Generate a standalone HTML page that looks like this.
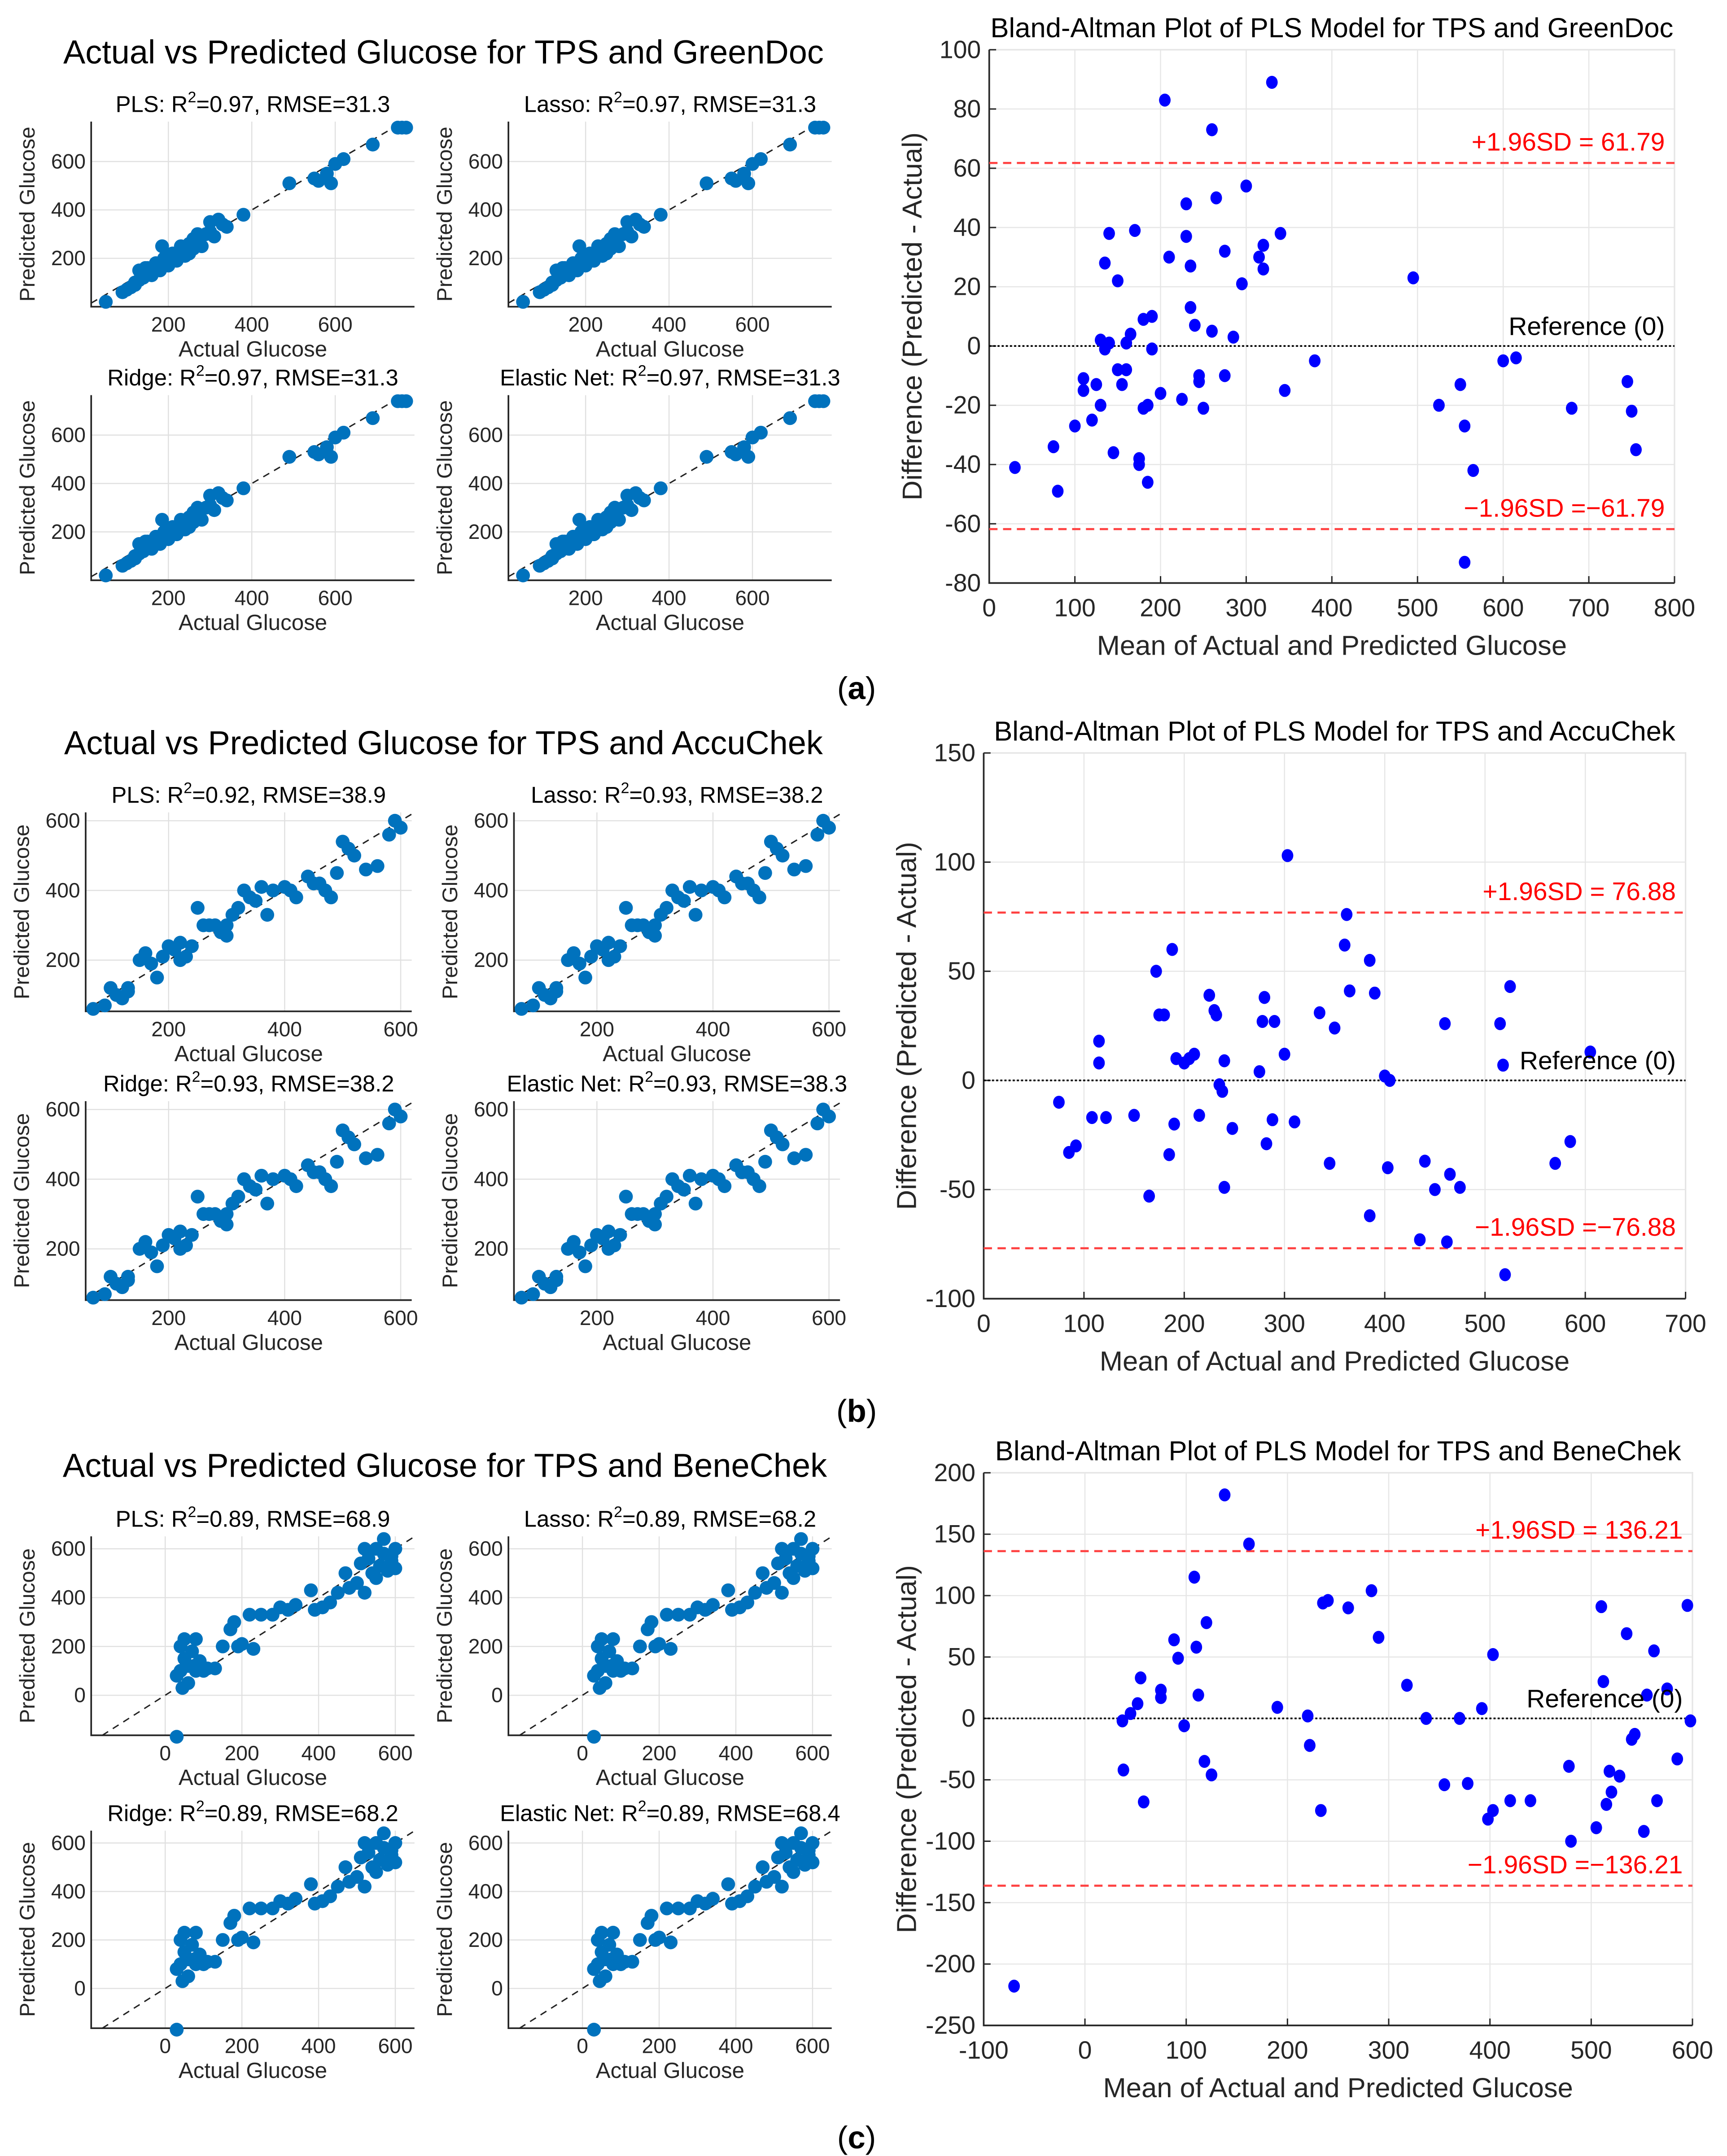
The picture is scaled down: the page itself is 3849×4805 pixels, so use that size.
<!DOCTYPE html>
<html><head><meta charset="utf-8"><style>
html,body{margin:0;padding:0;background:#fff}
svg{display:block}
text{font-family:"Liberation Sans",Arial,sans-serif}
</style></head><body>
<svg id="fig" xmlns="http://www.w3.org/2000/svg" width="3849" height="4805" viewBox="0 0 1250 1560.5" preserveAspectRatio="none">
<rect width="1250" height="1560.5" fill="#fff"/>
<text x="321" y="46" font-size="24" text-anchor="middle" fill="#000">Actual vs Predicted Glucose for TPS and GreenDoc</text>
<text x="321" y="546" font-size="24" text-anchor="middle" fill="#000">Actual vs Predicted Glucose for TPS and AccuChek</text>
<text x="322" y="1069" font-size="24" text-anchor="middle" fill="#000">Actual vs Predicted Glucose for TPS and BeneChek</text>
<text x="620" y="506" font-size="23" text-anchor="middle" font-family="Liberation Serif" fill="#000">(<tspan font-weight="bold">a</tspan>)</text>
<text x="620" y="1029" font-size="23" text-anchor="middle" font-family="Liberation Serif" fill="#000">(<tspan font-weight="bold">b</tspan>)</text>
<text x="620" y="1555" font-size="23" text-anchor="middle" font-family="Liberation Serif" fill="#000">(<tspan font-weight="bold">c</tspan>)</text>
</svg>
<script>
// ---- data (a) GreenDoc
const actualA=[50,90,100,110,120,130,140,150,160,170,180,190,200,210,220,230,240,250,260,270,280,290,300,310,320,330,340,380,490,550,560,580,590,600,620,690,750,760,770,130,150,175,200,230,260,300,250,120,145,185];
const predA=[20,60,70,80,100,150,120,160,130,180,150,200,170,220,190,250,210,260,240,300,250,300,350,290,360,340,330,380,510,530,520,550,510,590,610,670,740,740,740,110,140,170,210,230,280,310,220,90,160,250];
const baMeanA=[30,80,75,100,110,110,120,125,130,130,135,135,140,140,145,150,150,155,160,160,165,170,175,175,180,180,185,185,190,190,200,205,210,225,230,230,235,235,240,245,245,250,260,260,265,275,275,285,295,300,315,320,320,330,340,345,380,495,525,550,555,555,565,600,615,680,745,750,755];
const baDiffA=[-41,-49,-34,-27,-15,-11,-25,-13,-20,2,28,-1,1,38,-36,22,-8,-13,1,-8,4,39,-38,-40,9,-21,-46,-20,10,-1,-16,83,30,-18,37,48,27,13,7,-10,-12,-21,5,73,50,32,-10,3,21,54,30,34,26,89,38,-15,-5,23,-20,-13,-27,-73,-42,-5,-4,-21,-12,-22,-35];
// ---- data (b) AccuChek
const actualB=[70,90,100,110,120,130,150,160,170,180,190,200,210,220,230,240,250,260,270,280,290,300,310,320,330,340,350,360,370,380,400,410,420,440,450,460,470,480,490,500,510,520,540,560,580,590,600,130,220,300];
const predB=[60,70,120,100,90,110,200,220,190,150,210,240,230,200,210,240,350,300,300,300,280,270,330,350,400,380,370,410,330,400,410,400,380,440,420,420,400,380,450,540,520,500,460,470,560,600,580,120,250,300];
const baMeanB=[75,85,92,108,115,115,122,150,165,172,175,180,185,188,190,192,200,205,210,215,225,230,232,235,238,240,240,248,275,278,280,282,288,290,300,303,310,335,345,350,360,362,365,385,385,390,400,403,405,435,440,450,460,462,465,475,515,518,520,525,570,585,605];
const baDiffB=[-10,-33,-30,-17,18,8,-17,-16,-53,50,30,30,-34,60,-20,10,8,10,12,-16,39,32,30,-2,-5,9,-49,-22,4,27,38,-29,-18,27,12,103,-19,31,-38,24,62,76,41,-62,55,40,2,-40,0,-73,-37,-50,26,-74,-43,-49,26,7,-89,43,-38,-28,13];
// ---- data (c) BeneChek
const actualC=[30,30,40,40,45,50,50,60,60,70,75,80,80,90,100,110,130,150,170,180,190,200,220,230,250,280,300,320,340,380,390,410,430,450,470,480,500,510,520,530,540,550,560,570,580,590,600,600,520,550,570,590];
const predC=[-170,80,100,200,30,150,230,120,50,180,120,100,230,140,100,110,110,200,270,300,200,210,330,190,330,330,360,350,370,430,350,360,380,420,500,440,460,540,420,560,500,600,530,580,510,550,600,520,600,480,640,570];
const baMeanC=[-70,37,38,45,52,55,58,75,75,88,92,98,108,110,112,118,120,125,138,162,190,220,222,233,235,240,260,283,290,318,337,355,370,378,392,398,403,403,420,440,478,480,505,510,512,515,518,520,528,535,540,543,552,555,562,565,575,585,595,598];
const baDiffC=[-218,-2,-42,4,12,33,-68,17,23,64,49,-6,115,58,19,-35,78,-46,182,142,9,2,-22,-75,94,96,90,104,66,27,0,-54,0,-53,8,-82,52,-75,-67,-67,-39,-100,-89,91,30,-70,-43,-60,-47,69,-17,-13,-92,19,55,-67,24,-33,92,-2];
// tick labels
const scatTicksAB=[200,400,600];
const scatTicksC=[0,200,400,600];
const baXTicksA=[0,100,200,300,400,500,600,700,800];
const baYTicksA=[-80,-60,-40,-20,0,20,40,60,80,100];
const baXTicksB=[0,100,200,300,400,500,600,700];
const baYTicksB=[-100,-50,0,50,100,150];
const baXTicksC=[-100,0,100,200,300,400,500,600];
const baYTicksC=[-250,-200,-150,-100,-50,0,50,100,150,200];
const sdA=61.79, sdB=76.88, sdC=136.21;

const NS="http://www.w3.org/2000/svg";
const svg=document.getElementById('fig');
function el(tag,attrs,parent){const e=document.createElementNS(NS,tag);for(const k in attrs)e.setAttribute(k,attrs[k]);(parent||svg).appendChild(e);return e;}
function lin(d0,d1,r0,r1){return v=>r0+(v-d0)*(r1-r0)/(d1-d0);}

function scatterPanel(name,title,rsq,rmse,box,xd,yd,ticks,xs,ys){
  const g=el('g',{});
  
  
  const [x0,x1,y0,y1]=box;
  const X=lin(xd[0],xd[1],x0,x1), Y=lin(yd[0],yd[1],y1,y0);
  ticks.forEach(t=>{
    const gx=el('line',{x1:X(t),x2:X(t),y1:y0,y2:y1,stroke:'#e0e0e0','stroke-width':0.8},g);
    
    const gy=el('line',{x1:x0,x2:x1,y1:Y(t),y2:Y(t),stroke:'#e0e0e0','stroke-width':0.8},g);
    
    const tx=el('text',{x:X(t),y:y1+18,'font-size':15,'text-anchor':'middle',fill:'#262626'},g);tx.textContent=t;
    
    const ty=el('text',{x:x0-4,y:Y(t)+5,'font-size':15,'text-anchor':'end',fill:'#262626'},g);ty.textContent=t;
    
  });
  const ax=el('path',{d:`M${x0},${y0} L${x0},${y1} L${x1},${y1}`,fill:'none',stroke:'#262626','stroke-width':1.2},g);
  
  const lo=Math.max(xd[0],yd[0]), hi=Math.min(xd[1],yd[1]);
  const dl=el('line',{x1:X(lo),y1:Y(lo),x2:X(hi),y2:Y(hi),stroke:'#222','stroke-width':1,'stroke-dasharray':'5,4'},g);
  
  xs.forEach((v,i)=>{
    const c=el('circle',{cx:X(v),cy:Y(ys[i]),r:5,fill:'#0072BD'},g);
    
    
  });
  const t=el('text',{x:(x0+x1)/2,y:y0-7,'font-size':16.5,'text-anchor':'middle',fill:'#000'},g);
  
  t.innerHTML=`${title}: R<tspan dy="-7" font-size="11">2</tspan><tspan dy="7">=${rsq}, RMSE=${rmse}</tspan>`;
  const xl=el('text',{x:(x0+x1)/2,y:y1+36,'font-size':16,'text-anchor':'middle',fill:'#262626'},g);xl.textContent='Actual Glucose';
  
  const cy=(y0+y1)/2, cx=x0-41;
  const yl=el('text',{x:cx,y:cy,'font-size':15.5,'text-anchor':'middle',fill:'#262626',transform:`rotate(-90 ${cx} ${cy})`},g);yl.textContent='Predicted Glucose';
  
}

function baPanel(name,title,box,xd,yd,xt,yt,xs,ys,sd){
  const g=el('g',{});
  
  
  const [x0,x1,y0,y1]=box;
  const X=lin(xd[0],xd[1],x0,x1), Y=lin(yd[0],yd[1],y1,y0);
  el('rect',{x:x0,y:y0,width:x1-x0,height:y1-y0,fill:'none',stroke:'#d8d8d8','stroke-width':1},g);
  xt.forEach(t=>{
    const gl=el('line',{x1:X(t),x2:X(t),y1:y0,y2:y1,stroke:'#e6e6e6','stroke-width':0.8},g);
    
    el('line',{x1:X(t),x2:X(t),y1:y1,y2:y1-5,stroke:'#262626','stroke-width':1},g);
    const tx=el('text',{x:X(t),y:y1+24,'font-size':18,'text-anchor':'middle',fill:'#262626'},g);tx.textContent=t;
    
  });
  yt.forEach(t=>{
    const gl=el('line',{x1:x0,x2:x1,y1:Y(t),y2:Y(t),stroke:'#e6e6e6','stroke-width':0.8},g);
    
    el('line',{x1:x0,x2:x0+5,y1:Y(t),y2:Y(t),stroke:'#262626','stroke-width':1},g);
    const ty=el('text',{x:x0-6,y:Y(t)+6,'font-size':18,'text-anchor':'end',fill:'#262626'},g);ty.textContent=t;
    
  });
  const ax=el('path',{d:`M${x0},${y0} L${x0},${y1} L${x1},${y1}`,fill:'none',stroke:'#262626','stroke-width':1.2},g);
  
  const up=el('line',{x1:x0,x2:x1,y1:Y(sd),y2:Y(sd),stroke:'#ff4040','stroke-width':1.5,'stroke-dasharray':'6,4'},g);
  
  const dn=el('line',{x1:x0,x2:x1,y1:Y(-sd),y2:Y(-sd),stroke:'#ff4040','stroke-width':1.5,'stroke-dasharray':'6,4'},g);
  
  const zr=el('line',{x1:x0,x2:x1,y1:Y(0),y2:Y(0),stroke:'#000','stroke-width':1.2,'stroke-dasharray':'1.5,1.5'},g);
  
  xs.forEach((v,i)=>{
    const c=el('ellipse',{cx:X(v),cy:Y(ys[i]),rx:4.2,ry:4.7,fill:'#0000ff'},g);
    
    
  });
  const l1=el('text',{x:x1-7,y:Y(sd)-9,'font-size':18.5,'text-anchor':'end',fill:'#ff0000'},g);l1.textContent='+1.96SD = '+sd.toFixed(2);
  
  const l2=el('text',{x:x1-7,y:Y(-sd)-9,'font-size':18.5,'text-anchor':'end',fill:'#ff0000'},g);l2.textContent='\u22121.96SD =\u2212'+sd.toFixed(2);
  
  const l3=el('text',{x:x1-7,y:Y(0)-8,'font-size':18.5,'text-anchor':'end',fill:'#000'},g);l3.textContent='Reference (0)';
  
  const t=el('text',{x:(x0+x1)/2,y:y0-9,'font-size':20,'text-anchor':'middle',fill:'#000'},g);t.textContent=title;
  
  const xl=el('text',{x:(x0+x1)/2,y:y1+52,'font-size':20,'text-anchor':'middle',fill:'#262626'},g);xl.textContent='Mean of Actual and Predicted Glucose';
  
  const cy=(y0+y1)/2, cx=x0-49;
  const yl=el('text',{x:cx,y:cy,'font-size':20,'text-anchor':'middle',fill:'#262626',transform:`rotate(-90 ${cx} ${cy})`},g);yl.textContent='Difference (Predicted - Actual)';
  
}

// (a)
const xdA=[15,790], ydA=[0,765];
scatterPanel('pls-scatter-a','PLS','0.97','31.3',[66,300,88,222],xdA,ydA,scatTicksAB,actualA,predA);
scatterPanel('lasso-scatter-a','Lasso','0.97','31.3',[368,602,88,222],xdA,ydA,scatTicksAB,actualA,predA);
scatterPanel('ridge-scatter-a','Ridge','0.97','31.3',[66,300,286,420],xdA,ydA,scatTicksAB,actualA,predA);
scatterPanel('elastic-scatter-a','Elastic Net','0.97','31.3',[368,602,286,420],xdA,ydA,scatTicksAB,actualA,predA);
baPanel('bland-altman-a','Bland-Altman Plot of PLS Model for TPS and GreenDoc',[716,1212,36,422],[0,800],[-80,100],baXTicksA,baYTicksA,baMeanA,baDiffA,sdA);
// (b)
const xdB=[57,619], ydB=[53,624];
scatterPanel('pls-scatter-b','PLS','0.92','38.9',[62,298,588,732],xdB,ydB,scatTicksAB,actualB,predB);
scatterPanel('lasso-scatter-b','Lasso','0.93','38.2',[372,608,588,732],xdB,ydB,scatTicksAB,actualB,predB);
scatterPanel('ridge-scatter-b','Ridge','0.93','38.2',[62,298,797,941],xdB,ydB,scatTicksAB,actualB,predB);
scatterPanel('elastic-scatter-b','Elastic Net','0.93','38.3',[372,608,797,941],xdB,ydB,scatTicksAB,actualB,predB);
baPanel('bland-altman-b','Bland-Altman Plot of PLS Model for TPS and AccuChek',[712,1220,545,940],[0,700],[-100,150],baXTicksB,baYTicksB,baMeanB,baDiffB,sdB);
// (c)
const xdC=[-193,650], ydC=[-164,651];
scatterPanel('pls-scatter-c','PLS','0.89','68.9',[66,300,1112,1256],xdC,ydC,scatTicksC,actualC,predC);
scatterPanel('lasso-scatter-c','Lasso','0.89','68.2',[368,602,1112,1256],xdC,ydC,scatTicksC,actualC,predC);
scatterPanel('ridge-scatter-c','Ridge','0.89','68.2',[66,300,1325,1468],xdC,ydC,scatTicksC,actualC,predC);
scatterPanel('elastic-scatter-c','Elastic Net','0.89','68.4',[368,602,1325,1468],xdC,ydC,scatTicksC,actualC,predC);
baPanel('bland-altman-c','Bland-Altman Plot of PLS Model for TPS and BeneChek',[712,1225,1066,1466],[-100,600],[-250,200],baXTicksC,baYTicksC,baMeanC,baDiffC,sdC);
</script>
</body></html>
